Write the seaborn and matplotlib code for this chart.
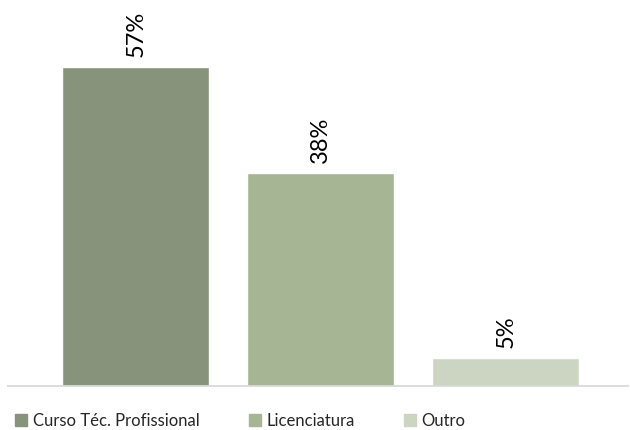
import matplotlib
matplotlib.use("Agg")
import matplotlib.pyplot as plt
import seaborn as sns
import pandas as pd
from matplotlib.lines import Line2D

categories = ["Curso Téc. Profissional", "Licenciatura", "Outro"]
values = [57, 38, 5]
labels = ["57%", "38%", "5%"]
colors = ["#87937A", "#A6B594", "#CCD5C2"]

sns.set_theme(style="white")
plt.rcParams['font.family'] = ['Lato', 'DejaVu Sans']

df = pd.DataFrame({"cat": categories, "val": values})

fig = plt.figure(figsize=(6.3, 4.3), dpi=100)
ax = fig.add_axes([8/630, 1 - 386/430, 620/630, 376/430])
sns.barplot(data=df, x="cat", y="val", hue="cat", palette=colors,
            width=0.795, ax=ax, legend=False, saturation=1)

for cont, lab in zip(ax.containers, labels):
    ax.bar_label(cont, labels=[lab], rotation=90, padding=7, fontsize=17, color="#000000")

ax.set_xlim(-0.69, 2.66)
ax.set_ylim(0, 67.1)
ax.set_xticks([])
ax.set_yticks([])
ax.set_xlabel("")
ax.set_ylabel("")
for s in ["top", "right", "left"]:
    ax.spines[s].set_visible(False)
ax.spines["bottom"].set_color("#D9D9D9")
ax.spines["bottom"].set_linewidth(1.3)

handles = [Line2D([0], [0], marker="s", linestyle="", markersize=8.5,
                  markerfacecolor=c, markeredgecolor=c) for c in colors]
fig.legend(handles, categories, loc="center", bbox_to_anchor=(0.381, 1 - 421/430),
           ncol=3, frameon=False, fontsize=12, handlelength=0.8, handletextpad=0.3,
           columnspacing=2.9, borderaxespad=0)

fig.savefig("out.png", dpi=100)
